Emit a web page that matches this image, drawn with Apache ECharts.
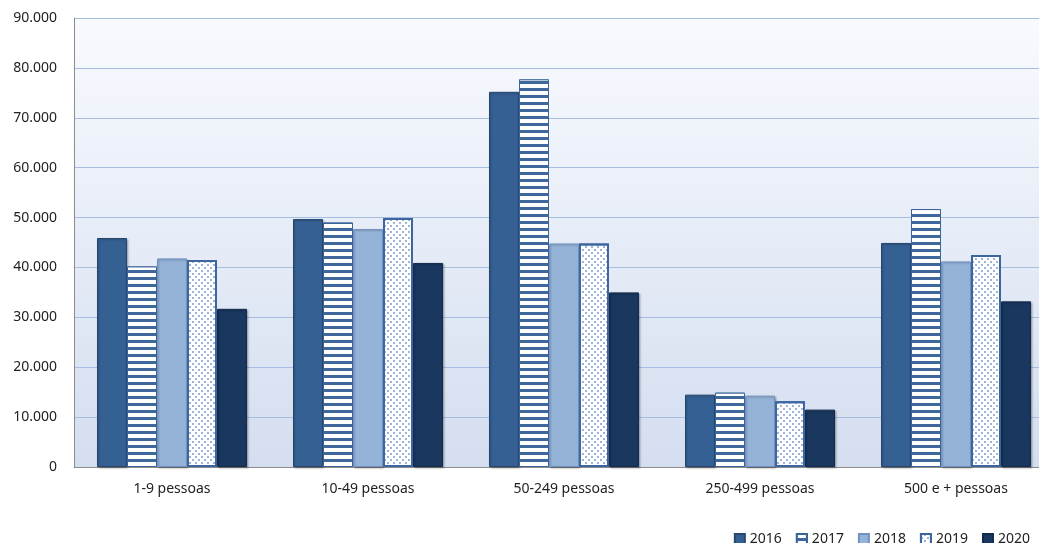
<!DOCTYPE html>
<html>
<head>
<meta charset="utf-8">
<script src="https://cdn.jsdelivr.net/npm/echarts@6/dist/echarts.min.js"></script>
<style>
html,body{margin:0;padding:0;background:#fff;}
#chart{width:1039px;height:543px;}
</style>
</head>
<body>
<div id="chart"></div>
<script>
const categories = ['1-9 pessoas', '10-49 pessoas', '50-249 pessoas', '250-499 pessoas', '500 e + pessoas'];
const seriesNames = ['2016', '2017', '2018', '2019', '2020'];
const values2016 = [45900, 49700, 75200, 14500, 44900];
const values2017 = [40200, 49000, 77700, 14900, 51700];
const values2018 = [41800, 47700, 44800, 14300, 41200];
const values2019 = [41500, 49900, 44800, 13200, 42500];
const values2020 = [31700, 40900, 35000, 11500, 33200];
const yTicks = [0, 10000, 20000, 30000, 40000, 50000, 60000, 70000, 80000, 90000];

const allValues = [values2016, values2017, values2018, values2019, values2020];

const shadow = {shadowColor: 'rgba(0,0,0,0.25)', shadowBlur: 2, shadowOffsetX: 1, shadowOffsetY: 1};
const styles = [
  Object.assign({color: '#356094', borderColor: '#26466f', borderWidth: 1}, shadow),
  {color: '#3e679c', borderColor: '#3b6499', borderWidth: 1,
    decal: {symbol: 'rect', symbolSize: 1, color: '#ffffff', dashArrayX: [1, 0], dashArrayY: [4, 3], rotation: 0}},
  Object.assign({color: '#95b3d8', borderColor: '#6f92c2', borderWidth: 1}, shadow),
  {color: '#ffffff', borderColor: '#3d66a0', borderWidth: 2,
    decal: {symbol: 'circle', symbolSize: 0.9, color: '#6f91c6', dashArrayX: [[2, 4], [0, 3, 2, 1]], dashArrayY: [2, 1], rotation: 0}},
  Object.assign({color: '#19375f', borderColor: '#132c4d', borderWidth: 1}, shadow)
];

const fontFam = '"Noto Sans", "Open Sans", sans-serif';
function fmt(v) {
  if (v === 0) return '0';
  return String(v).replace(/\B(?=(\d{3})+(?!\d))/g, '.');
}

const chart = echarts.init(document.getElementById('chart'), null, {renderer: 'canvas'});
chart.setOption({
  animation: false,
  backgroundColor: '#ffffff',
  textStyle: {fontFamily: fontFam},
  legend: {
    data: seriesNames,
    right: 4,
    top: 527,
    itemWidth: 10,
    itemHeight: 10,
    itemGap: 14,
    textStyle: {fontSize: 14, color: '#222', fontFamily: fontFam},
    icon: 'rect'
  },
  grid: {
    left: 74, top: 18, width: 980, height: 449,
    outerBoundsMode: 'none',
    containLabel: false,
    show: true,
    borderWidth: 0,
    backgroundColor: new echarts.graphic.LinearGradient(0, 0, 0, 1, [
      {offset: 0, color: '#f8fafe'},
      {offset: 1, color: '#d4def0'}
    ])
  },
  xAxis: {
    type: 'category',
    data: categories,
    axisLine: {lineStyle: {color: '#8c8c8c', width: 1}},
    axisTick: {show: false},
    axisLabel: {color: '#222', fontSize: 14, margin: 15, fontFamily: fontFam}
  },
  yAxis: {
    type: 'value',
    min: yTicks[0],
    max: yTicks[yTicks.length - 1],
    interval: 10000,
    axisLine: {show: true, lineStyle: {color: '#8c8c8c', width: 1}},
    axisTick: {show: false},
    splitLine: {lineStyle: {color: '#a4bde0', width: 1}},
    axisLabel: {color: '#222', fontSize: 14, margin: 17, fontFamily: fontFam, formatter: fmt}
  },
  series: seriesNames.map((name, i) => ({
    name: name,
    type: 'bar',
    data: allValues[i],
    barWidth: 30,
    barGap: '0%',
    itemStyle: styles[i]
  }))
});
</script>
</body>
</html>
